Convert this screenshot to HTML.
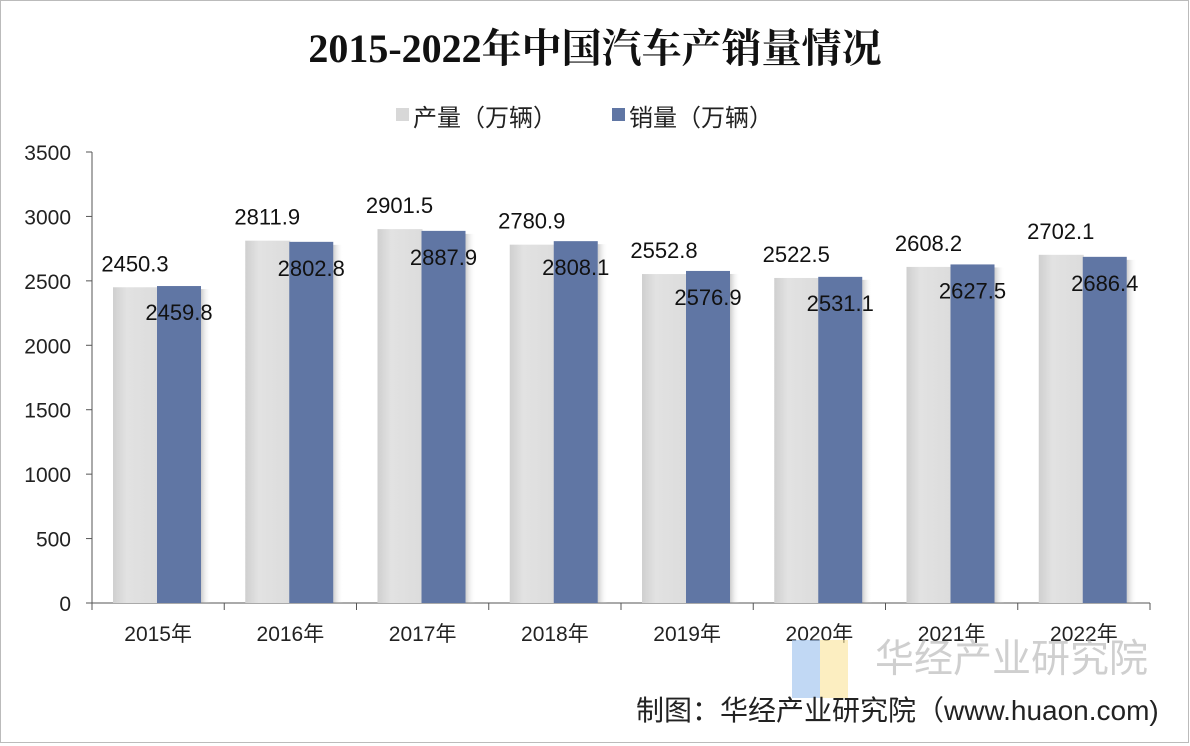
<!DOCTYPE html>
<html><head><meta charset="utf-8"><style>
body{margin:0;background:#fff;}
svg{display:block;font-family:"Liberation Sans","Noto Sans CJK SC",sans-serif;}
</style></head><body>
<svg id="c" width="1190" height="746" viewBox="0 0 1190 746">
<defs>
<linearGradient id="g1" x1="0" x2="1"><stop offset="0" stop-color="#cfcfcf"/><stop offset="0.3" stop-color="#e2e2e2"/><stop offset="1" stop-color="#dcdcdc"/></linearGradient>
<linearGradient id="sh" x1="0" x2="1"><stop offset="0" stop-color="#999" stop-opacity="0.5"/><stop offset="1" stop-color="#fff" stop-opacity="0"/></linearGradient>
</defs>
<rect x="0.5" y="0.5" width="1188" height="742" fill="#fff" stroke="#bbb"/>
<text x="595" y="62" text-anchor="middle" font-size="40" font-weight="bold" font-family="'Liberation Serif','Noto Serif CJK SC',serif" fill="#111">2015-2022年中国汽车产销量情况</text>
<g>
<rect x="396" y="108" width="13" height="13" fill="#d8d8d8"/>
<text x="413" y="126" font-size="24" fill="#222">产量（万辆）</text>
<rect x="612" y="108" width="13" height="13" fill="#6076a4"/>
<text x="629" y="126" font-size="24" fill="#222">销量（万辆）</text>
</g>
<g id="axes"></g>
<g id="bars"></g>
<g opacity="0.7">
<rect x="792" y="640" width="28" height="58" fill="#a8c8f0"/>
<rect x="820" y="640" width="28" height="58" fill="#fbe8a8"/>
<text x="875" y="672" font-size="39" fill="#bbb">华经产业研究院</text>
</g>
<text x="636" y="720" font-size="28" fill="#222">制图：华经产业研究院（www.huaon.com)</text>
</svg>
<script>
const categories=["2015年","2016年","2017年","2018年","2019年","2020年","2021年","2022年"];
const production=[2450.3,2811.9,2901.5,2780.9,2552.8,2522.5,2608.2,2702.1];
const sales=[2459.8,2802.8,2887.9,2808.1,2576.9,2531.1,2627.5,2686.4];
const yTicks=[0,500,1000,1500,2000,2500,3000,3500];
const NS="http://www.w3.org/2000/svg";
const X0=92,X1=1150,Y0=603,Y1=152,MAX=3500;
const bw=(X1-X0)/categories.length;
const y=v=>Y0-v/MAX*(Y0-Y1);
function mk(t,a,p){const e=document.createElementNS(NS,t);for(const k in a)e.setAttribute(k,a[k]);p.appendChild(e);return e;}
const ax=document.getElementById('axes'),bars=document.getElementById('bars');
const yl=mk('line',{x1:X0,y1:Y1,x2:X0,y2:Y0,stroke:'#555'},ax);


const xl=mk('line',{x1:X0,y1:Y0,x2:X1,y2:Y0,stroke:'#555'},ax);


yTicks.forEach(v=>{
  mk('line',{x1:X0-6,x2:X0,y1:y(v),y2:y(v),stroke:'#555'},ax);
  const t=mk('text',{x:X0-21,y:y(v)+8,'text-anchor':'end','font-size':21,fill:'#222'},ax);
  t.textContent=v;
  
  
});
for(let i=0;i<=categories.length;i++){mk('line',{x1:X0+i*bw,x2:X0+i*bw,y1:Y0,y2:Y0+7,stroke:'#555'},ax);}
categories.forEach((c,i)=>{
  const cx=X0+i*bw+bw/2;
  const t=mk('text',{x:cx,y:641,'text-anchor':'middle','font-size':21,fill:'#222'},ax);
  t.textContent=c;
  
  
  const gx=X0+i*bw+21, w=44;
  const yp=y(production[i]), ys=y(sales[i]);
  mk('rect',{x:gx+2*w,y:ys+3,width:10,height:Y0-ys-3,fill:'url(#sh)'},bars);
  const g=mk('rect',{x:gx,y:yp,width:w+1,height:Y0-yp,fill:'url(#g1)'},bars);
  
  
  const b=mk('rect',{x:gx+w,y:ys,width:w,height:Y0-ys,fill:'#6076a4'},bars);
  
  
  const tp=mk('text',{x:gx+w/2,y:yp-16,'text-anchor':'middle','font-size':22,fill:'#111'},bars);
  tp.textContent=production[i].toFixed(1);
  
  
  const ts=mk('text',{x:gx+w*1.5,y:ys+34,'text-anchor':'middle','font-size':22,fill:'#111'},bars);
  ts.textContent=sales[i].toFixed(1);
  
  
});
</script>
</body></html>
